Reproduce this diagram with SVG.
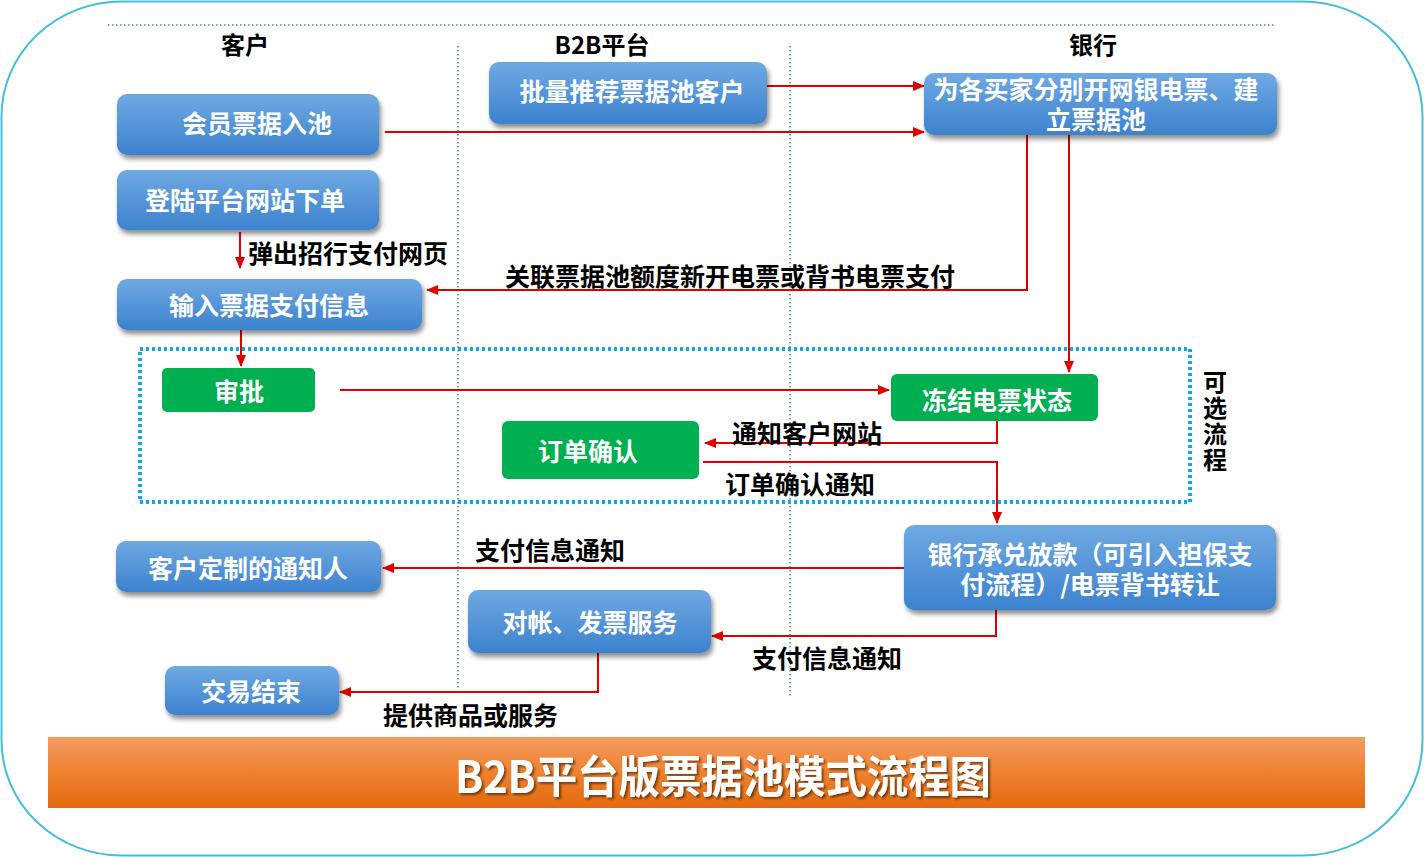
<svg xmlns="http://www.w3.org/2000/svg" width="1424" height="857" viewBox="0 0 1424 857">
<defs>
<linearGradient id="blueG" x1="0" y1="0" x2="0" y2="1">
<stop offset="0" stop-color="#6fa9e2"/>
<stop offset="1" stop-color="#3c82cf"/>
</linearGradient>
<linearGradient id="orangeG" x1="0" y1="0" x2="0" y2="1">
<stop offset="0" stop-color="#f39a62"/>
<stop offset="0.5" stop-color="#f0822e"/>
<stop offset="1" stop-color="#e2690f"/>
</linearGradient>
<filter id="sh" x="-10%" y="-20%" width="130%" height="150%">
<feGaussianBlur in="SourceAlpha" stdDeviation="2.5"/>
<feOffset dx="2" dy="4" result="o"/>
<feComponentTransfer><feFuncA type="linear" slope="0.45"/></feComponentTransfer>
<feMerge><feMergeNode/><feMergeNode in="SourceGraphic"/></feMerge>
</filter>
<filter id="tsh" x="-5%" y="-20%" width="110%" height="150%">
<feGaussianBlur in="SourceAlpha" stdDeviation="1"/>
<feOffset dx="1.5" dy="2" result="o"/>
<feComponentTransfer><feFuncA type="linear" slope="0.5"/></feComponentTransfer>
<feMerge><feMergeNode/><feMergeNode in="SourceGraphic"/></feMerge>
</filter>
<marker id="ar" viewBox="0 0 12 10" refX="11" refY="5" markerWidth="12" markerHeight="10" markerUnits="userSpaceOnUse" orient="auto">
<path d="M0,0 L12,5 L0,10 Z" fill="#e00000"/>
</marker>
</defs>
<style>
.bn{fill:url(#blueG);filter:url(#sh)}
.gn{fill:#00b050}
.nt{font-family:"Noto Sans CJK SC","Noto Sans",sans-serif;font-weight:bold;font-size:25px;fill:#fff;text-anchor:middle;dominant-baseline:central}
.lb{font-family:"Noto Sans CJK SC","Noto Sans",sans-serif;font-weight:bold;font-size:25px;fill:#000;dominant-baseline:central}
.hd{font-family:"Noto Sans CJK SC","Noto Sans",sans-serif;font-weight:bold;font-size:24px;fill:#000;text-anchor:middle;dominant-baseline:central}
.cn{fill:none;stroke:#e00000;stroke-width:2;marker-end:url(#ar)}
.dl{stroke:#3e8e9e;stroke-width:1.5;stroke-dasharray:1.5 2.5;fill:none}
</style>
<rect x="0" y="0" width="1424" height="857" fill="#fff"/>
<rect x="1.5" y="1.5" width="1421" height="854" rx="120" ry="115" fill="#fff" stroke="#45bde0" stroke-width="2"/>

<g id="lanes">
<line class="dl" x1="108" y1="25" x2="1275" y2="25"/>
<line class="dl" x1="458" y1="46" x2="458" y2="690"/>
<line class="dl" x1="790" y1="46" x2="790" y2="697"/>
<text class="hd" x="245" y="43">客户</text>
<text class="hd" x="602" y="43">B2B平台</text>
<text class="hd" x="1093" y="43">银行</text>
</g>

<g id="optional">
<rect x="140" y="349" width="1050" height="153" fill="none" stroke="#12a6e6" stroke-width="4" stroke-dasharray="3 3"/>
<text x="1215" y="370" font-family="Noto Sans CJK SC,Noto Sans,sans-serif" font-weight="bold" font-size="24" letter-spacing="2" fill="#000" writing-mode="vertical-rl" style="writing-mode:vertical-rl">可选流程</text>
</g>

<g id="connectors">
<line class="cn" x1="767" y1="86" x2="924" y2="86"/>
<line class="cn" x1="385" y1="132" x2="924" y2="132"/>
<line class="cn" x1="240" y1="232" x2="240" y2="268"/>
<polyline class="cn" points="1027,135 1027,290 427,290"/>
<line class="cn" x1="1069" y1="135" x2="1069" y2="372"/>
<line class="cn" x1="241" y1="330" x2="241" y2="366"/>
<line class="cn" x1="340" y1="390" x2="889" y2="390"/>
<polyline class="cn" points="997,421 997,443 705,443"/>
<polyline class="cn" points="703,462 997,462 997,523"/>
<line class="cn" x1="904" y1="568" x2="383" y2="568"/>
<polyline class="cn" points="996,610 996,636 712,636"/>
<polyline class="cn" points="598,653 598,692 340,692"/>
<text class="lb" x="248" y="252">弹出招行支付网页</text>
<text class="lb" x="505" y="275">关联票据池额度新开电票或背书电票支付</text>
<text class="lb" x="732" y="432">通知客户网站</text>
<text class="lb" x="725" y="483">订单确认通知</text>
<text class="lb" x="475" y="549">支付信息通知</text>
<text class="lb" x="752" y="657">支付信息通知</text>
<text class="lb" x="383" y="714">提供商品或服务</text>
</g>

<g id="n1"><rect class="bn" x="117" y="94" width="262" height="61" rx="10"/><text class="nt" x="257" y="122">会员票据入池</text></g>
<g id="n2"><rect class="bn" x="117" y="170" width="262" height="60" rx="10"/><text class="nt" x="245" y="199">登陆平台网站下单</text></g>
<g id="n3"><rect class="bn" x="117" y="279" width="305" height="51" rx="10"/><text class="nt" x="269" y="304">输入票据支付信息</text></g>
<g id="n4"><rect class="bn" x="489" y="62" width="278" height="62" rx="10"/><text class="nt" x="632" y="90">批量推荐票据池客户</text></g>
<g id="n5"><rect class="bn" x="924" y="73" width="353" height="62" rx="10"/><text class="nt" x="1096" y="88">为各买家分别开网银电票、建<tspan x="1096" dy="30">立票据池</tspan></text></g>
<g id="n6"><rect class="gn" x="162" y="368" width="153" height="44" rx="5"/><text class="nt" x="239" y="390">审批</text></g>
<g id="n7"><rect class="gn" x="891" y="374" width="207" height="47" rx="6"/><text class="nt" x="997" y="399">冻结电票状态</text></g>
<g id="n8"><rect class="gn" x="502" y="421" width="197" height="58" rx="6"/><text class="nt" x="588" y="450">订单确认</text></g>
<g id="n9"><rect class="bn" x="904" y="525" width="372" height="85" rx="10"/><text class="nt" x="1090" y="553">银行承兑放款（可引入担保支<tspan x="1090" dy="30">付流程）/电票背书转让</tspan></text></g>
<g id="n10"><rect class="bn" x="116" y="541" width="265" height="51" rx="10"/><text class="nt" x="248" y="567">客户定制的通知人</text></g>
<g id="n11"><rect class="bn" x="468" y="590" width="243" height="63" rx="10"/><text class="nt" x="590" y="621">对帐、发票服务</text></g>
<g id="n12"><rect class="bn" x="165" y="666" width="174" height="49" rx="10"/><text class="nt" x="251" y="690">交易结束</text></g>

<g id="title">
<rect x="48" y="737" width="1317" height="71" fill="url(#orangeG)"/>
<text x="723" y="774" font-family="Noto Sans CJK SC,Noto Sans,sans-serif" font-weight="bold" font-size="44" fill="#fff" text-anchor="middle" dominant-baseline="central" filter="url(#tsh)" textLength="536" lengthAdjust="spacingAndGlyphs">B2B平台版票据池模式流程图</text>
</g>
</svg>
